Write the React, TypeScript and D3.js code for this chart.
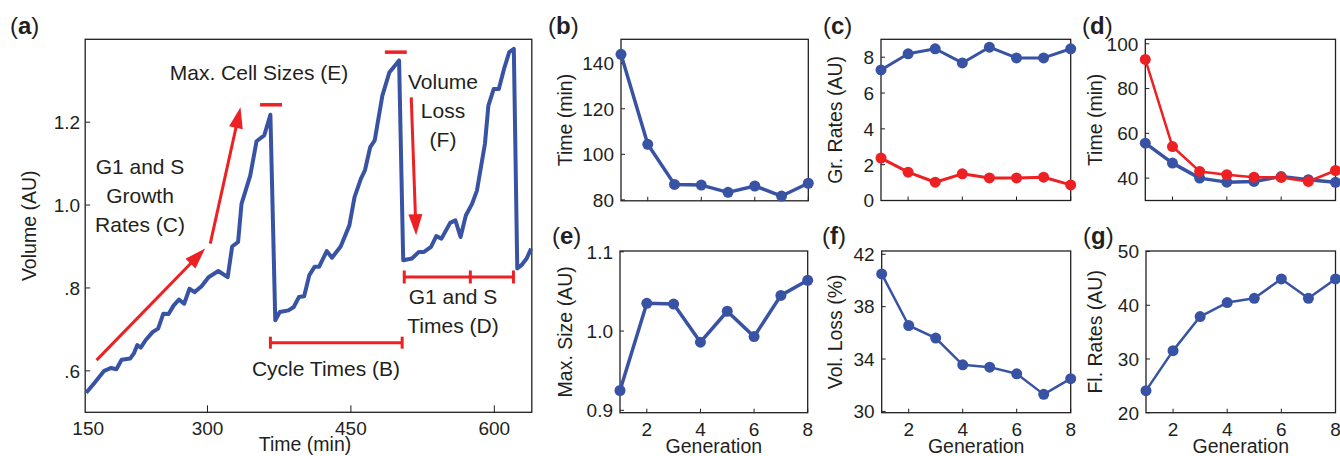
import React, { useEffect, useRef } from 'react';
import * as d3 from 'd3';

const BLUE = '#3953a4';
const RED = '#ed2024';
const INK = '#231f20';
const FONT = '"Liberation Sans", Arial, Helvetica, sans-serif';

// (a) volume trace
const volumeTime = [173.1, 181.1, 192, 199.3, 204.7, 210.2, 219.3, 223, 226.5, 230.2, 235.6, 242.9, 248.4, 253.8, 259.3, 264.7, 270.2, 275.6, 281.1, 286.5, 293.8, 301.1, 311.3, 321.1, 325.8, 332, 335.6, 344.7, 351.3, 359.3, 365.8, 370.9, 375.6, 384.7, 390.2, 395.6, 401.1, 406.5, 412, 416.7, 424.7, 430.2, 439.3, 448.4, 453.8, 460.4, 464.7, 470.2, 474.9, 482.9, 490.2, 500.4, 504.7, 513.8, 521.1, 526.5, 533.8, 539.3, 544.7, 553.8, 559.3, 564.7, 570.2, 576.7, 581.8, 590.2, 593.8, 599.3, 604.7, 610.2, 615.6, 620.4, 624, 628.4, 633.8, 638.5];
const volumeValue = [0.547, 0.569, 0.6, 0.607, 0.604, 0.627, 0.63, 0.642, 0.662, 0.656, 0.675, 0.694, 0.702, 0.738, 0.737, 0.758, 0.772, 0.762, 0.798, 0.79, 0.804, 0.826, 0.841, 0.826, 0.9, 0.911, 1.003, 1.071, 1.154, 1.168, 1.218, 0.722, 0.742, 0.746, 0.754, 0.778, 0.78, 0.831, 0.851, 0.851, 0.889, 0.873, 0.9, 0.951, 1.019, 1.063, 1.084, 1.14, 1.156, 1.264, 1.32, 1.349, 0.867, 0.871, 0.887, 0.887, 0.899, 0.925, 0.919, 0.957, 0.963, 0.923, 0.975, 1.003, 1.035, 1.148, 1.24, 1.28, 1.28, 1.329, 1.369, 1.377, 0.847, 0.855, 0.871, 0.895];
const timeTicks = [150, 300, 450, 600];
const volumeTicks = [0.6, 0.8, 1.0, 1.2];
const volumeTickLabels = ['.6', '.8', '1.0', '1.2'];

// annotations of (a), in data units [time, volume]
const growthArrows = [
  [[184, 0.626], [297.5, 0.895]],
  [[302.9, 0.907], [334.5, 1.236]],
];
const lossArrow = [[513.1, 1.26], [518.2, 0.927]];
const maxSizeBars = [[355, 378, 1.242], [485.5, 508.4, 1.369]];
const cycleBracket = [365.8, 503.6];
const cycleLevel = 0.668;
const phaseBracket = [505.8, 574.9, 620];
const phaseLevel = 0.8265;

// (b)-(g)
const generations = [1, 2, 3, 4, 5, 6, 7, 8];
const genTicks = [2, 4, 6, 8];
const cycleTime = [143.9, 104.4, 86.8, 86.5, 83.3, 86.1, 81.7, 87.3];
const growthRateBlue = [7.29, 8.19, 8.47, 7.68, 8.56, 7.96, 7.96, 8.47];
const growthRateRed = [2.37, 1.58, 1.02, 1.49, 1.26, 1.26, 1.3, 0.87];
const phaseTimeBlue = [55.6, 46.7, 40, 38.2, 38.5, 40.7, 39.3, 38.1];
const phaseTimeRed = [93, 54.1, 43, 41.5, 40.4, 40.3, 38.5, 43.4];
const maxSize = [0.925, 1.035, 1.034, 0.986, 1.025, 0.993, 1.045, 1.064];
const volLoss = [40.5, 36.56, 35.6, 33.56, 33.38, 32.87, 31.3, 32.5];
const flRates = [24.1, 31.55, 37.9, 40.5, 41.3, 44.9, 41.3, 44.9];

type Series = { values: number[]; color: string; width: number };
type Panel = {
  tag: string; tagX: number; tagY: number;
  left: number; top: number; right: number; bottom: number;
  domain: [number, number]; ticks: number[]; fmt: (d: number) => string;
  ylabel: string; ylabelX: number; series: Series[]; showGen: boolean;
};

const drawTag = (svg: any, tag: string, x: number, y: number) => {
  const t = svg.append('text').attr('x', x).attr('y', y)
    .attr('font-family', FONT).attr('font-size', 24).attr('fill', INK);
  t.append('tspan').text('(');
  t.append('tspan').attr('font-weight', 'bold').text(tag);
  t.append('tspan').text(')');
};

const drawArrow = (g: any, x1: number, y1: number, x2: number, y2: number) => {
  const len = Math.hypot(x2 - x1, y2 - y1);
  const ux = (x2 - x1) / len, uy = (y2 - y1) / len;
  const hl = 21, hw = 7;
  const bx = x2 - ux * hl, by = y2 - uy * hl;
  g.append('line').attr('x1', x1).attr('y1', y1).attr('x2', bx + ux * 2).attr('y2', by + uy * 2)
    .attr('stroke', RED).attr('stroke-width', 3);
  g.append('path')
    .attr('d', `M${x2},${y2}L${bx - uy * hw},${by + ux * hw}L${bx + uy * hw},${by - ux * hw}Z`)
    .attr('fill', RED);
};

const drawPanel = (svg: any, p: Panel) => {
  const x = d3.scaleLinear().domain([1, 8]).range([p.left, p.right]);
  const y = d3.scaleLinear().domain(p.domain).range([p.bottom, p.top]);
  const g = svg.append('g');

  g.selectAll('line.xt').data(genTicks).join('line').attr('class', 'xt')
    .attr('x1', (d: number) => x(d)).attr('x2', (d: number) => x(d))
    .attr('y1', p.bottom).attr('y2', p.bottom - 4).attr('stroke', INK);
  g.selectAll('line.yt').data(p.ticks).join('line').attr('class', 'yt')
    .attr('x1', p.left).attr('x2', p.left + 4)
    .attr('y1', (d: number) => y(d)).attr('y2', (d: number) => y(d)).attr('stroke', INK);
  g.append('rect').attr('x', p.left).attr('y', p.top)
    .attr('width', p.right - p.left).attr('height', p.bottom - p.top)
    .attr('fill', 'none').attr('stroke', INK).attr('stroke-width', 1.3);

  g.selectAll('text.yl').data(p.ticks).join('text').attr('class', 'yl')
    .attr('x', p.left - 7).attr('y', (d: number) => y(d)).attr('dy', '0.36em')
    .attr('text-anchor', 'end').attr('font-family', FONT).attr('font-size', 19).attr('fill', INK)
    .text(p.fmt);

  if (p.showGen) {
    g.selectAll('text.xl').data(genTicks).join('text').attr('class', 'xl')
      .attr('x', (d: number) => x(d)).attr('y', 436)
      .attr('text-anchor', 'middle').attr('font-family', FONT).attr('font-size', 19).attr('fill', INK)
      .text((d: number) => String(d));
    g.append('text').attr('x', (p.left + p.right) / 2).attr('y', 453)
      .attr('text-anchor', 'middle').attr('font-family', FONT).attr('font-size', 19.5).attr('fill', INK)
      .text('Generation');
  }

  g.append('text')
    .attr('transform', `translate(${p.ylabelX},${(p.top + p.bottom) / 2}) rotate(-90)`)
    .attr('dy', '0.35em').attr('text-anchor', 'middle')
    .attr('font-family', FONT).attr('font-size', 19.5).attr('fill', INK)
    .text(p.ylabel);

  const line = d3.line<number>().x((_, i) => x(generations[i])).y((d) => y(d));
  p.series.forEach((s) => {
    g.append('path').attr('d', line(s.values)).attr('fill', 'none')
      .attr('stroke', s.color).attr('stroke-width', s.width).attr('stroke-linejoin', 'round');
    g.selectAll(null).data(s.values).join('circle')
      .attr('cx', (_: number, i: number) => x(generations[i])).attr('cy', (d: number) => y(d))
      .attr('r', 5.5).attr('fill', s.color);
  });

  drawTag(svg, p.tag, p.tagX, p.tagY);
};

const App = () => {
  const svgRef = useRef<SVGSVGElement>(null);

  useEffect(() => {
    if (!svgRef.current) return;
    const svg = d3.select(svgRef.current);
    svg.selectAll('*').remove();

    // ---------- (a) ----------
    const L = 85.2, R = 531.8, T = 39.3, B = 412.3;
    const x = d3.scaleLinear().domain([172.1, 639.2]).range([L, R]);
    const y = d3.scaleLinear().domain([0.5, 1.4]).range([B, T]);
    const a = svg.append('g');

    const inside = timeTicks.filter((t) => t > x.domain()[0]);
    a.selectAll('line.xt').data(inside).join('line').attr('class', 'xt')
      .attr('x1', (d) => x(d)).attr('x2', (d) => x(d)).attr('y1', B).attr('y2', B - 7).attr('stroke', INK);
    a.selectAll('line.yt').data(volumeTicks).join('line').attr('class', 'yt')
      .attr('x1', L).attr('x2', L + 5).attr('y1', (d) => y(d)).attr('y2', (d) => y(d)).attr('stroke', INK);
    a.append('rect').attr('x', L).attr('y', T).attr('width', R - L).attr('height', B - T)
      .attr('fill', 'none').attr('stroke', INK).attr('stroke-width', 1.3);

    a.selectAll('text.xl').data(timeTicks).join('text').attr('class', 'xl')
      .attr('x', (d) => (d < x.domain()[0] ? x(x.domain()[0]) + 3 : x(d))).attr('y', 435)
      .attr('text-anchor', 'middle').attr('font-family', FONT).attr('font-size', 19).attr('fill', INK)
      .text((d) => String(d));
    a.selectAll('text.yl').data(volumeTicks).join('text').attr('class', 'yl')
      .attr('x', L - 5).attr('y', (d) => y(d)).attr('dy', '0.36em')
      .attr('text-anchor', 'end').attr('font-family', FONT).attr('font-size', 19).attr('fill', INK)
      .text((_, i) => volumeTickLabels[i]);
    a.append('text').attr('x', 305).attr('y', 451).attr('text-anchor', 'middle')
      .attr('font-family', FONT).attr('font-size', 19.5).attr('fill', INK).text('Time (min)');
    a.append('text').attr('transform', `translate(29,${(T + B) / 2}) rotate(-90)`)
      .attr('dy', '0.35em').attr('text-anchor', 'middle')
      .attr('font-family', FONT).attr('font-size', 19.5).attr('fill', INK).text('Volume (AU)');

    const trace = d3.line<number>().x((_, i) => x(volumeTime[i])).y((d) => y(d));
    a.append('path').attr('d', trace(volumeValue)).attr('fill', 'none')
      .attr('stroke', BLUE).attr('stroke-width', 4).attr('stroke-linejoin', 'round');

    // red annotations
    const ann = a.append('g');
    growthArrows.forEach(([s, e]) => drawArrow(ann, x(s[0]), y(s[1]), x(e[0]), y(e[1])));
    drawArrow(ann, x(lossArrow[0][0]), y(lossArrow[0][1]), x(lossArrow[1][0]), y(lossArrow[1][1]));
    maxSizeBars.forEach(([t0, t1, v]) => {
      ann.append('line').attr('x1', x(t0)).attr('x2', x(t1)).attr('y1', y(v)).attr('y2', y(v))
        .attr('stroke', RED).attr('stroke-width', 3.5);
    });
    const bracket = (ts: number[], level: number, cap: number) => {
      ann.append('line').attr('x1', x(ts[0])).attr('x2', x(ts[ts.length - 1]))
        .attr('y1', y(level)).attr('y2', y(level)).attr('stroke', RED).attr('stroke-width', 3);
      ts.forEach((t) => {
        ann.append('line').attr('x1', x(t)).attr('x2', x(t))
          .attr('y1', y(level) - cap / 2).attr('y2', y(level) + cap / 2)
          .attr('stroke', RED).attr('stroke-width', 3);
      });
    };
    bracket(cycleBracket, cycleLevel, 12);
    bracket(phaseBracket, phaseLevel, 13);

    const note = (lines: string[], cx: number, y0: number) => {
      lines.forEach((s, i) => {
        a.append('text').attr('x', cx).attr('y', y0 + i * 29).attr('text-anchor', 'middle')
          .attr('font-family', FONT).attr('font-size', 21).attr('fill', INK).text(s);
      });
    };
    note(['Max. Cell Sizes (E)'], 259, 80);
    note(['G1 and S', 'Growth', 'Rates (C)'], 140, 174);
    note(['Volume', 'Loss', '(F)'], 443, 88.5);
    note(['G1 and S', 'Times (D)'], 453, 304);
    note(['Cycle Times (B)'], 326, 376);

    drawTag(svg, 'a', 10, 33.5);

    // ---------- (b)-(g) ----------
    const fInt = (d: number) => d3.format('d')(d);
    const panels: Panel[] = [
      { tag: 'b', tagX: 548, tagY: 33.5, left: 621, top: 39.3, right: 808.3, bottom: 200.8,
        domain: [79.6, 150.5], ticks: [80, 100, 120, 140], fmt: fInt, ylabel: 'Time (min)', ylabelX: 565,
        series: [{ values: cycleTime, color: BLUE, width: 3.5 }], showGen: false },
      { tag: 'c', tagX: 823, tagY: 33.5, left: 881, top: 39.3, right: 1070.7, bottom: 200.5,
        domain: [0, 9], ticks: [0, 2, 4, 6, 8], fmt: fInt, ylabel: 'Gr. Rates (AU)', ylabelX: 835,
        series: [{ values: growthRateBlue, color: BLUE, width: 3 }, { values: growthRateRed, color: RED, width: 3 }], showGen: false },
      { tag: 'd', tagX: 1082, tagY: 33.5, left: 1145.3, top: 39.3, right: 1335.5, bottom: 200.5,
        domain: [30, 102], ticks: [40, 60, 80, 100], fmt: fInt, ylabel: 'Time (min)', ylabelX: 1095,
        series: [{ values: phaseTimeBlue, color: BLUE, width: 3.5 }, { values: phaseTimeRed, color: RED, width: 2.5 }], showGen: false },
      { tag: 'e', tagX: 552, tagY: 244, left: 620, top: 251, right: 807.7, bottom: 412.7,
        domain: [0.897, 1.101], ticks: [0.9, 1.0, 1.1], fmt: d3.format('.1f'), ylabel: 'Max. Size (AU)', ylabelX: 565,
        series: [{ values: maxSize, color: BLUE, width: 3.5 }], showGen: true },
      { tag: 'f', tagX: 822, tagY: 244, left: 881.7, top: 251, right: 1070.7, bottom: 412.7,
        domain: [29.9, 42.25], ticks: [30, 34, 38, 42], fmt: fInt, ylabel: 'Vol. Loss (%)', ylabelX: 835,
        series: [{ values: volLoss, color: BLUE, width: 2.5 }], showGen: true },
      { tag: 'g', tagX: 1083, tagY: 244, left: 1146, top: 251, right: 1335.5, bottom: 412.7,
        domain: [20, 50.1], ticks: [20, 30, 40, 50], fmt: fInt, ylabel: 'Fl. Rates (AU)', ylabelX: 1095,
        series: [{ values: flRates, color: BLUE, width: 2.5 }], showGen: true },
    ];
    panels.forEach((p) => drawPanel(svg, p));
  }, []);

  return (
    <svg
      ref={svgRef}
      width={1340}
      height={456}
      style={{ position: 'absolute', left: 0, top: 0, background: '#fff' }}
    />
  );
};

export default App;
